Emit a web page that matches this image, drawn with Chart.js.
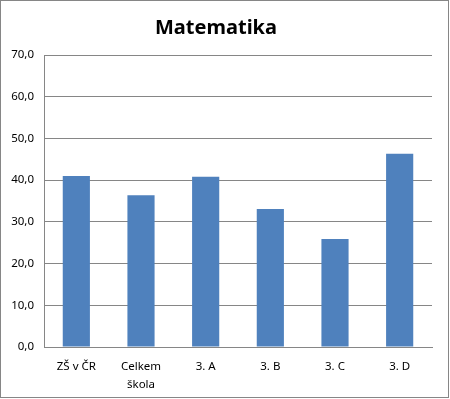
<!DOCTYPE html>
<html>
<head>
<meta charset="utf-8">
<script src="https://cdn.jsdelivr.net/npm/chart.js@4/dist/chart.umd.min.js"></script>
<style>
  html, body { margin: 0; padding: 0; background: #fff; }
  canvas { display: block; }
</style>
</head>
<body>
<canvas id="c" width="450" height="399"></canvas>
<script>
const chartTitle = 'Matematika';
const categories = ['ZŠ v ČR', ['Celkem', 'škola'], '3. A', '3. B', '3. C', '3. D'];
const values = [41.0, 36.4, 40.8, 33.1, 25.9, 46.3];
const yTickLabels = ['0,0', '10,0', '20,0', '30,0', '40,0', '50,0', '60,0', '70,0'];

const borderPlugin = {
  id: 'outerBorder',
  afterDraw(chart) {
    const ctx = chart.ctx;
    ctx.save();
    ctx.strokeStyle = '#868686';
    ctx.lineWidth = 1;
    ctx.strokeRect(0.5, 0.5, 448, 397);
    ctx.restore();
  }
};

new Chart(document.getElementById('c'), {
  type: 'bar',
  data: {
    labels: categories,
    datasets: [{
      data: values,
      backgroundColor: '#4F81BD',
      borderWidth: 0,
      barPercentage: 0.42,
      categoryPercentage: 1.0
    }]
  },
  options: {
    responsive: false,
    animation: false,
    devicePixelRatio: 1,
    layout: { padding: { left: 0, right: 18, top: 16, bottom: 0 } },
    plugins: {
      legend: { display: false },
      tooltip: { enabled: false },
      title: {
        display: true,
        text: chartTitle,
        color: '#000',
        font: { family: 'Noto Sans', size: 20, weight: 'bold', lineHeight: 1.2 },
        padding: { top: 0, bottom: 15 }
      }
    },
    scales: {
      x: {
        grid: { display: false, drawTicks: false },
        border: { display: true, color: '#868686', width: 1 },
        ticks: {
          color: '#000',
          font: { family: 'Noto Sans', size: 11.5, lineHeight: 1.55 },
          padding: 11,
          maxRotation: 0,
          autoSkip: false
        },
        afterFit(scale) { scale.height = 52; }
      },
      y: {
        min: 0,
        max: 70,
        grid: { color: '#868686', lineWidth: 1, drawTicks: false },
        border: { display: true, color: '#868686', width: 1 },
        ticks: {
          stepSize: 10,
          color: '#000',
          font: { family: 'Noto Sans', size: 11.5 },
          padding: 10,
          callback: (v, i) => yTickLabels[i]
        },
        afterFit(scale) { scale.width = 44; }
      }
    }
  },
  plugins: [borderPlugin]
});
</script>
</body>
</html>
